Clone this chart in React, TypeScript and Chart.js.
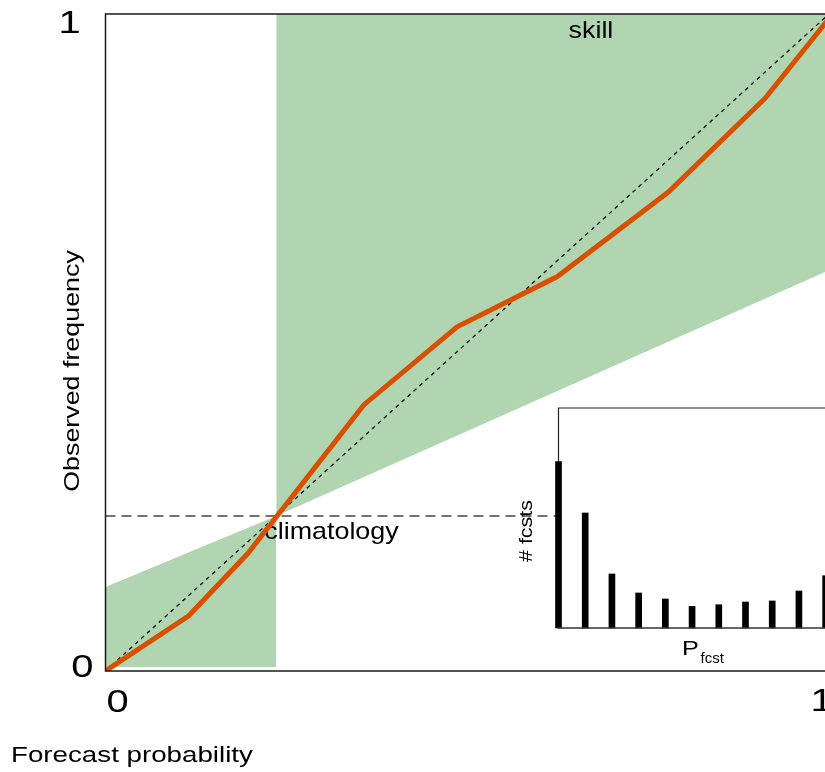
import React, { useEffect, useRef } from 'react';
import { Chart, registerables } from 'chart.js';

Chart.register(...registerables);

// ---- data ----
const climatology = 0.236;
const reliabilityX = [0, 0.115, 0.196, 0.357, 0.486, 0.624, 0.778, 0.912, 1.0];
const reliabilityY = [0, 0.084, 0.178, 0.405, 0.524, 0.6, 0.729, 0.872, 0.993];
const noSkillLeftY = 0.128;
const noSkillRightY = 0.61;
const skillFloor = 0.006;
const histBins = [0, 0.1, 0.2, 0.3, 0.4, 0.5, 0.6, 0.7, 0.8, 0.9, 1.0];
const histCounts = [1665, 1150, 540, 350, 290, 216, 233, 260, 270, 370, 523];
const histMax = 2200;
const axisTicks = [0, 1];

const ORANGE = '#d94f00';
const GREEN = '#b2d5b1';
const FONT = '"Liberation Sans", Arial, Helvetica, sans-serif';

function drawText(
  ctx: CanvasRenderingContext2D,
  text: string,
  x: number,
  y: number,
  size: number,
  sx: number,
  rotate = 0,
  align: CanvasTextAlign = 'left'
) {
  ctx.save();
  ctx.translate(x, y);
  if (rotate) ctx.rotate(rotate);
  ctx.scale(sx, 1);
  ctx.font = `${size}px ${FONT}`;
  ctx.textAlign = align;
  ctx.textBaseline = 'alphabetic';
  ctx.fillStyle = '#000';
  ctx.fillText(text, 0, 0);
  ctx.restore();
}

const mainPlugin = {
  id: 'mainDecor',
  afterDatasetDraw(chart: any, args: any) {
    if (args.index !== 1) return;
    const ctx = chart.ctx as CanvasRenderingContext2D;
    const xs = chart.scales.x;
    const ys = chart.scales.y;
    drawText(ctx, 'skill', xs.getPixelForValue(0.64), ys.getPixelForValue(1) + 24, 24, 1.12);
    drawText(ctx, 'climatology', xs.getPixelForValue(climatology) - 12, ys.getPixelForValue(climatology) + 23, 24, 1.12);
  },
  afterDraw(chart: any) {
    const ctx = chart.ctx as CanvasRenderingContext2D;
    const { left, right, top, bottom } = chart.chartArea;
    const xs = chart.scales.x;
    const ys = chart.scales.y;
    ctx.save();
    ctx.strokeStyle = '#1a1a1a';
    ctx.lineWidth = 1.5;
    ctx.strokeRect(left, top, right - left, bottom - top);
    ctx.restore();
    axisTicks.forEach((v) => {
      const py = ys.getPixelForValue(v);
      if (v === 0) drawText(ctx, '0', 71.3, py + 6, 32, 1.25);
      else drawText(ctx, '1', 58.6, py + 19, 32, 1.25);
      const px = xs.getPixelForValue(v);
      if (v === 0) drawText(ctx, '0', px + 1, bottom + 41, 32, 1.25);
      else drawText(ctx, '1', px - 18.5, bottom + 40, 32, 1.25);
    });
    drawText(ctx, 'Forecast probability', 11, 762, 22, 1.26);
    drawText(ctx, 'Observed frequency', 79, 371, 22, 1.22, -Math.PI / 2, 'center');
  },
};

const insetPlugin = {
  id: 'insetDecor',
  beforeDatasetsDraw(chart: any) {
    const ctx = chart.ctx as CanvasRenderingContext2D;
    const { left, right, top, bottom } = chart.chartArea;
    ctx.save();
    ctx.fillStyle = '#fff';
    ctx.fillRect(left, top, right - left, bottom - top);
    ctx.strokeStyle = '#222';
    ctx.lineWidth = 1.2;
    ctx.beginPath();
    ctx.moveTo(left, bottom);
    ctx.lineTo(left, top);
    ctx.lineTo(right, top);
    ctx.stroke();
    ctx.restore();
  },
  afterDatasetsDraw(chart: any) {
    const ctx = chart.ctx as CanvasRenderingContext2D;
    const { left, right, bottom } = chart.chartArea;
    ctx.save();
    ctx.strokeStyle = '#333';
    ctx.lineWidth = 1.6;
    ctx.beginPath();
    ctx.moveTo(left - 1, bottom);
    ctx.lineTo(right, bottom);
    ctx.stroke();
    ctx.restore();
    drawText(ctx, '# fcsts', 32, 136, 19, 1.13, -Math.PI / 2, 'center');
    drawText(ctx, 'P', 182, 260, 21, 1.2);
    drawText(ctx, 'fcst', 200.5, 268, 15, 1.0);
  },
};

export default function App() {
  const mainRef = useRef<HTMLCanvasElement>(null);
  const insetRef = useRef<HTMLCanvasElement>(null);

  useEffect(() => {
    const main = new Chart(mainRef.current as HTMLCanvasElement, {
      type: 'line',
      data: {
        datasets: [
          {
            data: reliabilityX.map((x, i) => ({ x, y: reliabilityY[i] })),
            borderColor: ORANGE,
            borderWidth: 5,
            pointRadius: 0,
            fill: false,
            tension: 0,
          },
          {
            data: [
              { x: 0, y: 0 },
              { x: 1, y: 1 },
            ],
            borderColor: '#000',
            borderWidth: 1.3,
            borderDash: [4, 4],
            pointRadius: 0,
            fill: false,
          },
          {
            data: [
              { x: 0, y: climatology },
              { x: 1, y: climatology },
            ],
            borderColor: '#444',
            borderWidth: 1.6,
            borderDash: [10, 6],
            pointRadius: 0,
            fill: false,
          },
          {
            data: [
              { x: climatology, y: climatology },
              { x: 1, y: noSkillRightY },
            ],
            borderWidth: 0,
            borderColor: 'rgba(0,0,0,0)',
            backgroundColor: GREEN,
            pointRadius: 0,
            fill: 'end',
          },
          {
            data: [
              { x: 0, y: noSkillLeftY },
              { x: climatology, y: climatology },
            ],
            borderWidth: 0,
            borderColor: 'rgba(0,0,0,0)',
            backgroundColor: GREEN,
            pointRadius: 0,
            fill: { value: skillFloor },
          },
        ],
      },
      options: {
        responsive: false,
        animation: false,
        devicePixelRatio: 1,
        events: [],
        layout: { padding: { left: 105.5, top: 14, right: 11, bottom: 101 } },
        scales: {
          x: { type: 'linear', min: 0, max: 1, display: false },
          y: { type: 'linear', min: 0, max: 1, display: false },
        },
        plugins: { legend: { display: false }, tooltip: { enabled: false } },
      },
      plugins: [mainPlugin],
    } as any);

    const inset = new Chart(insetRef.current as HTMLCanvasElement, {
      type: 'bar',
      data: {
        datasets: [
          {
            data: histBins.map((x, i) => ({ x, y: histCounts[i] })),
            backgroundColor: '#000',
            barThickness: 6,
            clip: false,
          },
        ],
      },
      options: {
        responsive: false,
        animation: false,
        devicePixelRatio: 1,
        events: [],
        layout: { padding: { left: 58.5, top: 13, right: 6, bottom: 57 } },
        scales: {
          x: { type: 'linear', min: 0, max: 1.05, offset: false, display: false },
          y: { type: 'linear', min: 0, max: histMax, display: false },
        },
        plugins: { legend: { display: false }, tooltip: { enabled: false } },
      },
      plugins: [insetPlugin],
    } as any);

    return () => {
      main.destroy();
      inset.destroy();
    };
  }, []);

  return (
    <div
      style={{
        position: 'fixed',
        left: 0,
        top: 0,
        width: 825,
        height: 772,
        overflow: 'hidden',
        background: '#fff',
      }}
    >
      <canvas
        ref={mainRef}
        width={840}
        height={772}
        style={{ position: 'absolute', left: 0, top: 0, width: 840, height: 772 }}
      />
      <canvas
        ref={insetRef}
        width={345}
        height={290}
        style={{ position: 'absolute', left: 500, top: 395, width: 345, height: 290 }}
      />
    </div>
  );
}
